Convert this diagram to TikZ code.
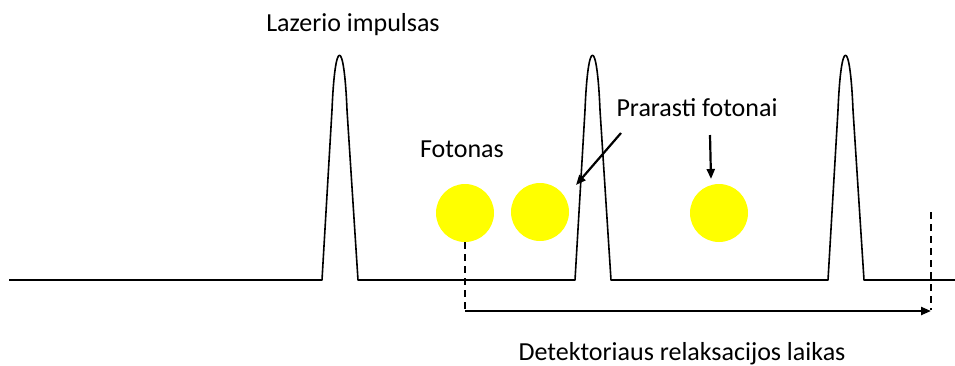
\documentclass[tikz,border=0pt]{standalone}
\usepackage{fontspec}
\setmainfont{Carlito}
\usepackage{xcolor}
\usetikzlibrary{arrows.meta, positioning}
\definecolor{photonyellow}{RGB}{255,255,0}

\begin{document}
\begin{tikzpicture}[
        x=1pt, y=-1pt,
        every node/.style={font=\fontsize{26}{30}\selectfont, inner sep=0pt},
        lbl/.style={anchor=base},
        photon/.style={circle, fill=photonyellow, minimum size=58pt},
        sig/.style={line width=1.6pt, line join=round},
        arr/.style={-{Triangle[length=10pt, width=8pt]}, line width=2.2pt},
        guide/.style={dash pattern=on 7pt off 5pt, line width=1.6pt}
    ]
        \useasboundingbox (0,0) rectangle (955,365);

        \draw[sig] (9,280)
            \foreach \l in {322, 575, 828} {
                -- (\l,280) -- (\l+10,110)
                .. controls (\l+13,37) and (\l+22,37) .. (\l+25,110)
                -- (\l+36,280)
            } -- (955,280);

        \node[photon] (ph1) at (465,213) {};
        \node[photon] (ph2) at (540,212) {};
        \node[photon] (ph3) at (719,213) {};

        \node[lbl] (laser) at (353,31) {Lazerio impulsas};
        \node[lbl] (foton) at (462,157) {Fotonas};
        \node[lbl] (lost) at (697,116) {Prarasti fotonai};
        \node[lbl] (relax) at (682,360) {Detektoriaus relaksacijos laikas};

        \coordinate (l1) at (621,133);
        \coordinate (l1e) at (576,185);
        \coordinate (l2) at (710,135);
        \coordinate (l2e) at (711,179);
        \coordinate (t0) at (465,311);
        \coordinate (t1top) at (931,212);
        \coordinate (t1) at (931,311);

        \draw[arr] (l1) -- (l1e);
        \draw[arr] (l2) -- (l2e);
        \draw[guide] (ph1.south) -- ([yshift=1pt]t0);
        \draw[guide] (t1top) -- ([yshift=1pt]t1);
        \draw[arr] (t0) -- (t1);
    \end{tikzpicture}
\end{document}
